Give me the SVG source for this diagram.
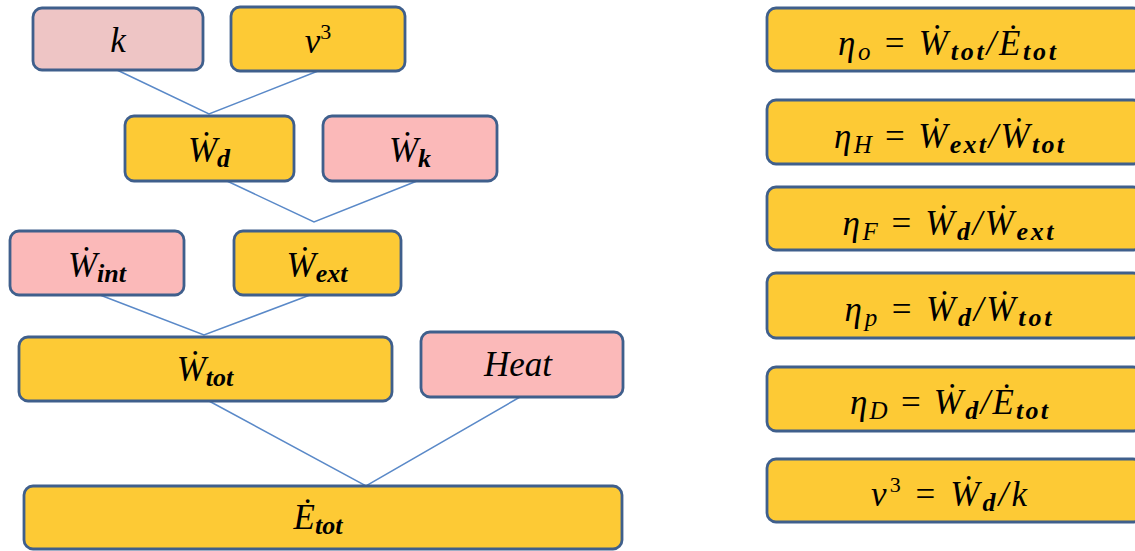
<svg xmlns="http://www.w3.org/2000/svg" width="1135" height="551" viewBox="0 0 1135 551">
<style>
.y{fill:#FDCA35;stroke:#3F5F8C;stroke-width:2.8}
.p{fill:#FBB9B9;stroke:#3F5F8C;stroke-width:2.8}
.pk{fill:#EEC5C5;stroke:#3F5F8C;stroke-width:2.8}
.c{stroke:#5A89C8;stroke-width:1.5;fill:none}
text{font-family:"Liberation Serif","DejaVu Serif",serif;font-style:italic;font-size:35px;fill:#000;text-anchor:middle}
.s{font-weight:bold;font-size:26px}
.si{font-size:25px}
.u{font-style:normal;font-size:22px}
.n{font-style:normal}
</style>
<rect x="0" y="0" width="1135" height="551" fill="#fff"/>
<g id="connectors">
<path class="c" d="M117 70 L209 114 L318 71"/>
<path class="c" d="M227 181 L314 222 L417 181"/>
<path class="c" d="M100 295 L204 335 L310 295"/>
<path class="c" d="M209 401 L366 486 L520 397"/>
</g>
<g id="n_k"><rect class="pk" x="33" y="8" width="170" height="62" rx="9"/><text x="118" y="52">k</text></g>
<g id="n_v3"><rect class="y" x="231" y="7" width="174" height="64" rx="9"/><text x="318" y="53">v<tspan class="u" dy="-14">3</tspan></text></g>
<g id="n_wd"><rect class="y" x="125" y="116" width="169" height="65" rx="9"/><text x="209" y="162">Ẇ<tspan class="s" dy="5">d</tspan></text></g>
<g id="n_wk"><rect class="p" x="323" y="116" width="174" height="65" rx="9"/><text x="410" y="162">Ẇ<tspan class="s" dy="5">k</tspan></text></g>
<g id="n_wint"><rect class="p" x="10" y="231" width="174" height="64" rx="9"/><text x="97" y="277">Ẇ<tspan class="s" dy="5">int</tspan></text></g>
<g id="n_wext"><rect class="y" x="234" y="231" width="167" height="64" rx="9"/><text x="317" y="277">Ẇ<tspan class="s" dy="5">ext</tspan></text></g>
<g id="n_wtot"><rect class="y" x="19" y="337" width="373" height="64" rx="9"/><text x="205" y="381">Ẇ<tspan class="s" dy="5">tot</tspan></text></g>
<g id="n_heat"><rect class="p" x="421" y="332" width="202" height="65" rx="9"/><text x="518" y="376">Heat</text></g>
<g id="n_etot"><rect class="y" x="24" y="486" width="598" height="63" rx="9"/><text x="318" y="529">Ė<tspan class="s" dy="5">tot</tspan></text></g>
<g id="f1"><rect class="y" x="767" y="8" width="375" height="63" rx="9"/><text x="947" y="55" textLength="218" lengthAdjust="spacing">η<tspan class="si" dy="5">o</tspan><tspan class="n" dy="-5"> = </tspan>Ẇ<tspan class="s" dy="5">tot</tspan><tspan dy="-5">/Ė</tspan><tspan class="s" dy="5">tot</tspan></text></g>
<g id="f2"><rect class="y" x="767" y="100" width="375" height="64" rx="9"/><text x="949" y="148" textLength="230" lengthAdjust="spacing">η<tspan class="si" dy="5">H</tspan><tspan class="n" dy="-5"> = </tspan>Ẇ<tspan class="s" dy="5">ext</tspan><tspan dy="-5">/Ẇ</tspan><tspan class="s" dy="5">tot</tspan></text></g>
<g id="f3"><rect class="y" x="767" y="187" width="375" height="63" rx="9"/><text x="948" y="235" textLength="211" lengthAdjust="spacing">η<tspan class="si" dy="5">F</tspan><tspan class="n" dy="-5"> = </tspan>Ẇ<tspan class="s" dy="5">d</tspan><tspan dy="-5">/Ẇ</tspan><tspan class="s" dy="5">ext</tspan></text></g>
<g id="f4"><rect class="y" x="767" y="273" width="375" height="65" rx="9"/><text x="948" y="321" textLength="207" lengthAdjust="spacing">η<tspan class="si" dy="5">p</tspan><tspan class="n" dy="-5"> = </tspan>Ẇ<tspan class="s" dy="5">d</tspan><tspan dy="-5">/Ẇ</tspan><tspan class="s" dy="5">tot</tspan></text></g>
<g id="f5"><rect class="y" x="767" y="367" width="375" height="64" rx="9"/><text x="949" y="414" textLength="198" lengthAdjust="spacing">η<tspan class="si" dy="5">D</tspan><tspan class="n" dy="-5"> = </tspan>Ẇ<tspan class="s" dy="5">d</tspan><tspan dy="-5">/Ė</tspan><tspan class="s" dy="5">tot</tspan></text></g>
<g id="f6"><rect class="y" x="767" y="459" width="375" height="63" rx="9"/><text x="949" y="506" textLength="156" lengthAdjust="spacing">v<tspan class="u" dy="-14">3</tspan><tspan class="n" dy="14"> = </tspan>Ẇ<tspan class="s" dy="5">d</tspan><tspan dy="-5">/k</tspan></text></g>
</svg>
